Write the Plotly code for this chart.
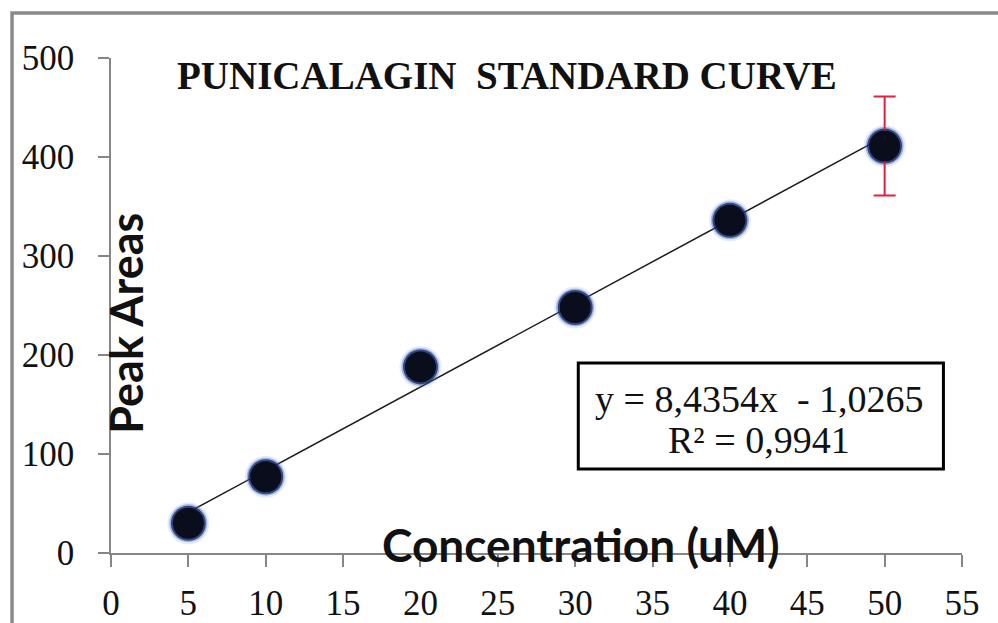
import plotly.graph_objects as go

# ---- data ----
concentration = [5, 10, 20, 30, 40, 50]
peak_area = [30, 77, 188, 248, 336, 411]
error_plus = [0, 0, 0, 0, 0, 50]
trend_slope = 8.4354
trend_intercept = -1.0265
r_squared = 0.9941
x_tick_values = [0, 5, 10, 15, 20, 25, 30, 35, 40, 45, 50, 55]
y_tick_values = [0, 100, 200, 300, 400, 500]

title_text = "PUNICALAGIN&nbsp;&nbsp;STANDARD CURVE"
x_title = "Concentration (uM)"
y_title = "Peak Areas"
eq_line1 = "y = 8,4354x&nbsp; - 1,0265"
eq_line2 = "R² = 0,9941"

trend_x = [min(concentration), max(concentration)]
trend_y = [trend_slope * v + trend_intercept for v in trend_x]

SERIF = "Liberation Serif, Times New Roman, serif"
SANS = "Lato, Calibri, sans-serif"

fig = go.Figure()

# trendline
fig.add_trace(go.Scatter(x=trend_x, y=trend_y, mode="lines",
                         line=dict(color="#1a1a1a", width=1.5),
                         hoverinfo="skip", showlegend=False))
# glow layers
fig.add_trace(go.Scatter(x=concentration, y=peak_area, mode="markers",
                         marker=dict(size=42, color="rgba(110,150,220,0.18)", line=dict(width=0)),
                         hoverinfo="skip", showlegend=False))
fig.add_trace(go.Scatter(x=concentration, y=peak_area, mode="markers",
                         marker=dict(size=38, color="rgba(40,80,170,0.35)", line=dict(width=0)),
                         hoverinfo="skip", showlegend=False))
fig.add_trace(go.Scatter(x=concentration, y=peak_area, mode="markers",
                         marker=dict(size=35, color="rgba(15,35,100,0.75)", line=dict(width=0)),
                         hoverinfo="skip", showlegend=False))
# core markers with error bar
fig.add_trace(go.Scatter(x=concentration, y=peak_area, mode="markers",
                         marker=dict(size=31, color="#0a0e1c", line=dict(width=0)),
                         error_y=dict(type="data", array=error_plus, symmetric=True,
                                      color="#e0203c", thickness=2, width=11),
                         showlegend=False))

# equation box
fig.add_shape(type="rect", xref="x", yref="y", x0=30.2, x1=53.8, y0=84.8, y1=191.9,
              line=dict(color="black", width=3), fillcolor="white", layer="above")

# outer chart border
fig.add_shape(type="rect", xref="paper", yref="paper", x0=-0.1163, x1=1.2, y0=-0.3, y1=1.0909,
              line=dict(color="#8a8a8a", width=3.5), fillcolor="rgba(0,0,0,0)")

annotations = [
    dict(x=25.6, y=482.8, text="<b>" + title_text + "</b>", showarrow=False,
         font=dict(family=SERIF, size=39, color="#111111"), xanchor="center", yanchor="middle"),
    dict(x=1.0, y=232, text="<b>" + y_title + "</b>", showarrow=False, textangle=-90,
         font=dict(family=SANS, size=45, color="#111111"), xanchor="center", yanchor="middle"),
    dict(x=30.4, y=9, text="<b>" + x_title + "</b>", showarrow=False,
         font=dict(family=SANS, size=46, color="#111111"), xanchor="center", yanchor="middle"),
    dict(x=41.9, y=155.5, text=eq_line1, showarrow=False,
         font=dict(family=SERIF, size=38, color="#111111"), xanchor="center", yanchor="middle"),
    dict(x=41.9, y=114, text=eq_line2, showarrow=False,
         font=dict(family=SERIF, size=38, color="#111111"), xanchor="center", yanchor="middle"),
]

fig.update_layout(
    width=998, height=623,
    margin=dict(l=111, r=36, t=58, b=70, pad=0, autoexpand=False),
    paper_bgcolor="white", plot_bgcolor="white",
    annotations=annotations,
    xaxis=dict(range=[0, 55], tickmode="array", tickvals=x_tick_values, automargin=False,
               showgrid=False, zeroline=False, showline=True, linecolor="#868686", linewidth=1.5,
               ticks="outside", ticklen=12, tickcolor="#868686", tickwidth=1.5,
               ticklabelstandoff=6,
               tickfont=dict(family=SERIF, size=35, color="#111111")),
    yaxis=dict(range=[0, 500], tickmode="array", tickvals=y_tick_values, automargin=False,
               showgrid=False, zeroline=False, showline=True, linecolor="#868686", linewidth=1.5,
               ticks="outside", ticklen=11, tickcolor="#868686", tickwidth=1.5,
               ticklabelstandoff=17,
               tickfont=dict(family=SERIF, size=35, color="#111111")),
)

fig.write_html("out.html", config={"displayModeBar": False},
               post_script="document.body.style.margin='0';document.body.style.padding='0';")
